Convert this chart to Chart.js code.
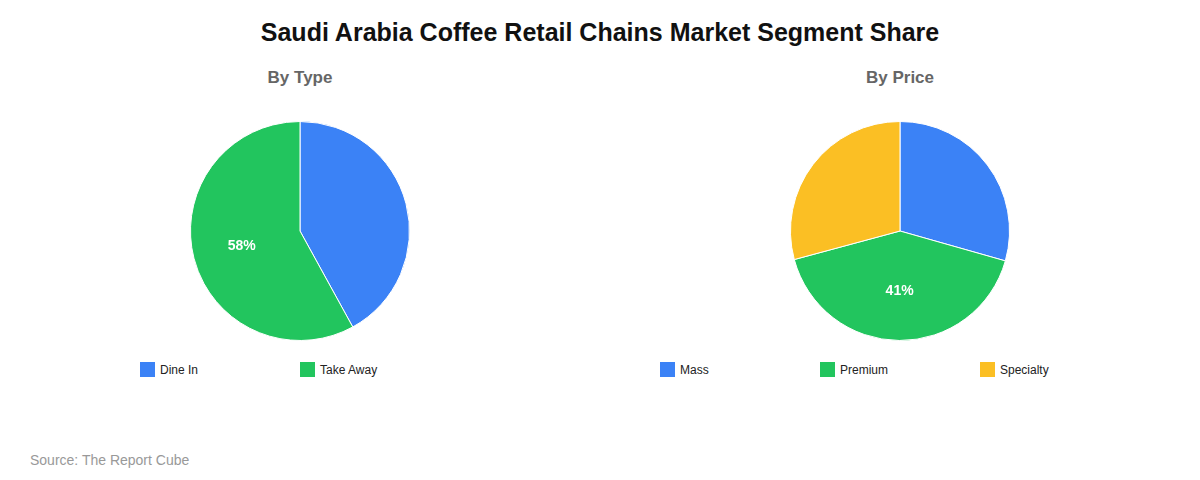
<!DOCTYPE html>
<html>
<head>
<meta charset="utf-8">
<script src="https://cdn.jsdelivr.net/npm/chart.js@4.4.0/dist/chart.umd.min.js"></script>
<style>
  html, body { margin: 0; padding: 0; background: #fff; }
  body { width: 1200px; height: 480px; position: relative; overflow: hidden;
         font-family: "Liberation Sans", Arial, sans-serif; }
  .title { position: absolute; top: 18px; left: 0; width: 1200px; text-align: center;
           font-size: 25px; font-weight: bold; color: #111; }
  .sub { position: absolute; top: 68px; width: 600px; text-align: center;
         font-size: 17px; font-weight: bold; color: #666; }
  .pie { position: absolute; top: 121px; width: 600px; height: 220px; }
  .legend { position: absolute; top: 362px; height: 16px; }
  .legend span.item { position: absolute; top: 0; white-space: nowrap; font-size: 12px; color: #222; }
  .legend i { display: inline-block; width: 15px; height: 15px; vertical-align: -3px; margin-right: 5px; }
  .source { position: absolute; left: 30px; top: 452px; font-size: 14px; color: #999; }
</style>
</head>
<body>
<div class="title">Saudi Arabia Coffee Retail Chains Market Segment Share</div>
<div class="sub" style="left:0">By Type</div>
<div class="sub" style="left:600px">By Price</div>
<div class="pie" style="left:0"><canvas id="typeChart"></canvas></div>
<div class="pie" style="left:600px"><canvas id="priceChart"></canvas></div>
<div class="legend" id="typeLegend" style="left:140px"></div>
<div class="legend" id="priceLegend" style="left:660px"></div>
<div class="source">Source: The Report Cube</div>

<script>
const typeLabels  = ['Dine In', 'Take Away'];
const typeValues  = [42, 58];
const typeColors  = ['#3B82F6', '#22C55E'];

const priceLabels = ['Mass', 'Premium', 'Specialty'];
const priceValues = [29.4, 41.4, 29.2];
const priceColors = ['#3B82F6', '#22C55E', '#FBBF24'];

// only the biggest slice gets a percentage label
const largestLabel = {
  id: 'largestLabel',
  afterDatasetsDraw(chart) {
    const ds = chart.data.datasets[0];
    const total = ds.data.reduce((a, b) => a + b, 0);
    const idx = ds.data.indexOf(Math.max(...ds.data));
    const arc = chart.getDatasetMeta(0).data[idx];
    const mid = (arc.startAngle + arc.endAngle) / 2;
    const r = arc.outerRadius * 0.55;
    const ctx = chart.ctx;
    ctx.save();
    ctx.fillStyle = '#fff';
    ctx.font = 'bold 14px "Liberation Sans", Arial, sans-serif';
    ctx.textAlign = 'center';
    ctx.textBaseline = 'middle';
    ctx.fillText(Math.round(ds.data[idx] / total * 100) + '%',
      arc.x + Math.cos(mid) * r, arc.y + Math.sin(mid) * r);
    ctx.restore();
  },
};

function makePie(id, labels, values, colors) {
  return new Chart(document.getElementById(id), {
    type: 'pie',
    data: {
      labels,
      datasets: [{
        data: values,
        backgroundColor: colors,
        borderColor: '#fff',
        borderWidth: 1,
      }],
    },
    options: {
      responsive: true,
      maintainAspectRatio: false,
      animation: false,
      layout: { padding: 0 },
      plugins: { legend: { display: false }, tooltip: { enabled: false } },
    },
    plugins: [largestLabel],
  });
}

function makeLegend(id, labels, colors) {
  const el = document.getElementById(id);
  labels.forEach((l, i) => {
    const s = document.createElement('span');
    s.className = 'item';
    s.style.left = (i * 160) + 'px';
    s.innerHTML = `<i style="background:${colors[i]}"></i>${l}`;
    el.appendChild(s);
  });
}

makePie('typeChart', typeLabels, typeValues, typeColors);
makePie('priceChart', priceLabels, priceValues, priceColors);
makeLegend('typeLegend', typeLabels, typeColors);
makeLegend('priceLegend', priceLabels, priceColors);
</script>
</body>
</html>
